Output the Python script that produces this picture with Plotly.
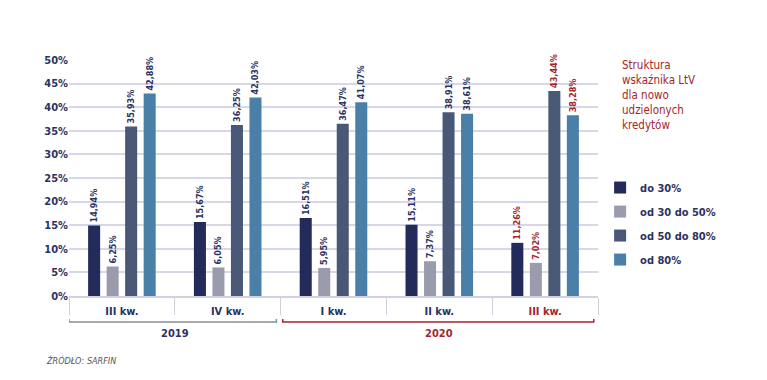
import plotly.graph_objects as go

quarters = ["III kw.", "IV kw.", "I kw.", "II kw.", "III kw. "]
years = ["2019", "2019", "2020", "2020", "2020"]
series_names = ["do 30%", "od 30 do 50%", "od 50 do 80%", "od 80%"]
do30 = [14.94, 15.67, 16.51, 15.11, 11.26]
od30_50 = [6.25, 6.05, 5.95, 7.37, 7.02]
od50_80 = [35.93, 36.25, 36.47, 38.91, 43.44]
od80 = [42.88, 42.03, 41.07, 38.61, 38.28]
colors = ["#222b5a", "#9a9cae", "#4a5878", "#4a7fa8"]
label_colors = ["#2a3263", "#2a3263", "#2a3263", "#2a3263", "#a3262d"]
tick_labels = ["III kw.", "IV kw.", "I kw.", "II kw.", "<span style='color:#a3262d'>III kw.</span>"]

FONT = "Liberation Sans Narrow, DejaVu Sans Condensed, Roboto Condensed, Arial Narrow, sans-serif"
NAVY = "#2a3263"
RED = "#a3262d"

fig = go.Figure()
for i, (name, vals) in enumerate(zip(series_names, [do30, od30_50, od50_80, od80])):
    fig.add_trace(go.Bar(
        x=quarters, y=vals, name=name, marker_color=colors[i], marker_line_width=0,
        text=[f"{v:.2f}".replace(".", ",") + "%" for v in vals],
        textposition="outside", textangle=-90, constraintext="none",
        textfont=dict(family=FONT, size=9, color=label_colors, weight="bold"),
        cliponaxis=False, legendgroup=name,
    ))

# page body has an 8px margin, so the figure is sized to fit the window
fig.update_layout(
    width=759, height=372,
    margin=dict(l=61, r=169, t=52, b=84, autoexpand=False),
    paper_bgcolor="white", plot_bgcolor="white",
    barmode="group", bargap=0.3, bargroupgap=0.35,
    font=dict(family=FONT, color=NAVY),
    showlegend=True,
    legend=dict(x=1.004, y=0.521, xanchor="left", yanchor="top",
                font=dict(family=FONT, size=11, color=NAVY, weight="bold"),
                tracegroupgap=5, itemwidth=30, bgcolor="rgba(0,0,0,0)"),
    xaxis=dict(type="category", tickmode="array", tickvals=quarters, ticktext=tick_labels,
               tickson="boundaries", ticks="outside", ticklen=17, tickcolor="#d0d0dc",
               tickwidth=1, showline=True, linecolor="#d0d3e6", linewidth=1.5,
               tickfont=dict(family=FONT, size=11, color=NAVY, weight="bold"), showgrid=False,
               range=[-0.5, 4.5], automargin=False, ticklabelstandoff=4),
    yaxis=dict(range=[0, 50], dtick=5, ticksuffix="%", showgrid=True,
               gridcolor="#d6d8ea", gridwidth=1.5, zeroline=False,
               tickfont=dict(family=FONT, size=11, color=NAVY, weight="bold"), ticks="",
               showline=False, automargin=False),
)

# year brackets
def bracket(x0, x1, color):
    fig.add_shape(type="path", xref="x", yref="paper",
                  path=f"M {x0},-0.097 L {x0},-0.11 L {x1},-0.11 L {x1},-0.097",
                  line=dict(color=color, width=1.5))

bracket(-0.5, 1.46, "#8a8a96")
bracket(1.52, 4.46, RED)
fig.add_annotation(x=0.5, y=-0.157, xref="x", yref="paper", yanchor="middle", text="2019",
                   showarrow=False, font=dict(family=FONT, size=11, color=NAVY, weight="bold"))
fig.add_annotation(x=3.0, y=-0.157, xref="x", yref="paper", yanchor="middle", text="2020",
                   showarrow=False, font=dict(family=FONT, size=11, color=RED, weight="bold"))

fig.add_annotation(x=1.0416, y=1.017, xref="paper", yref="paper", xanchor="left", yanchor="top",
                   align="left", showarrow=False,
                   text="Struktura<br>wskaźnika LtV<br>dla nowo<br>udzielonych<br>kredytów",
                   font=dict(family=FONT, size=11.5, color=RED))

fig.add_annotation(x=-0.047, y=-0.275, xref="paper", yref="paper", xanchor="left", yanchor="middle",
                   showarrow=False, text="<i>ŹRÓDŁO: SARFIN</i>",
                   font=dict(family=FONT, size=9, color="#555"))

fig.write_html("out.html")
